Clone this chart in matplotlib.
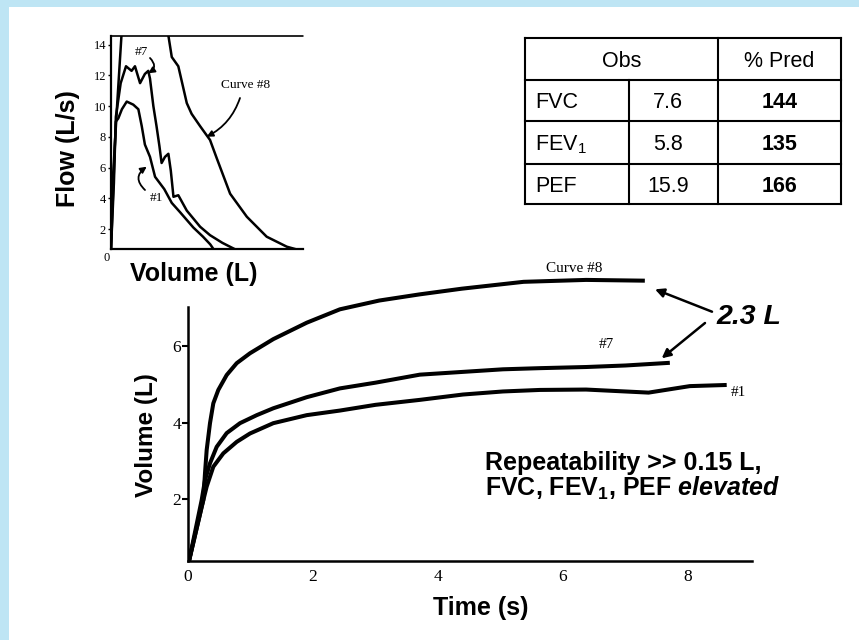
import matplotlib
matplotlib.use('Agg')
import matplotlib.pyplot as plt
from matplotlib.patches import Rectangle

plt.rcParams['mathtext.fontset'] = 'custom'
plt.rcParams['mathtext.rm'] = 'Liberation Sans'
plt.rcParams['mathtext.it'] = 'Liberation Sans:italic:bold'
plt.rcParams['mathtext.bf'] = 'Liberation Sans:bold'

# ---------------- data: volume-time curves ----------------
t_c8 = [0.0, 0.02, 0.245, 0.272, 0.299, 0.352, 0.405, 0.485, 0.619, 0.779, 0.992, 1.365, 1.9, 2.43,
        3.06, 3.7, 4.38, 5.37, 6.37, 7.31]
v_c8 = [0.3, 0.41, 1.98, 2.68, 3.29, 3.99, 4.51, 4.86, 5.25, 5.56, 5.82, 6.19, 6.62, 6.97,
        7.2, 7.36, 7.51, 7.69, 7.74, 7.72]
t_c7 = [0.0, 0.02, 0.219, 0.272, 0.352, 0.459, 0.619, 0.832, 1.1, 1.365, 1.9, 2.43,
        3.0, 3.71, 5.04, 5.63, 6.37, 7.0, 7.71]
v_c7 = [0.3, 0.41, 1.98, 2.5, 2.94, 3.37, 3.73, 3.99, 4.2, 4.38, 4.67, 4.9,
        5.05, 5.26, 5.4, 5.43, 5.46, 5.5, 5.57]
t_c1 = [0.0, 0.02, 0.219, 0.299, 0.405, 0.565, 0.779, 0.992, 1.365, 1.9, 2.43,
        3.0, 3.71, 4.4, 5.04, 5.63, 6.37, 7.12, 7.37, 8.03, 8.62]
v_c1 = [0.3, 0.41, 1.8, 2.33, 2.85, 3.2, 3.5, 3.72, 3.99, 4.2, 4.32,
        4.47, 4.6, 4.74, 4.82, 4.86, 4.87, 4.81, 4.79, 4.96, 4.99]

# ---------------- data: flow-volume curves ----------------
fv_v8 = [0.0, 0.05, 0.25, 0.44, 0.8, 1.3, 1.8, 2.37, 2.51, 2.78, 3.13, 3.33, 3.68, 4.09,
         4.37, 4.92, 5.61, 6.43, 7.26, 7.6]
fv_f8 = [0.7, 4.5, 10.0, 14.8, 15.6, 15.9, 15.5, 14.6, 13.2, 12.6, 10.2, 9.5, 8.7, 7.8,
         6.6, 4.3, 2.8, 1.5, 0.85, 0.7]
fv_v7 = [0.0, 0.12, 0.2, 0.4, 0.62, 0.85, 0.99, 1.2, 1.4, 1.54, 1.61, 1.75, 1.88, 2.0,
         2.09, 2.23, 2.37, 2.47, 2.58, 2.78, 3.13, 3.68, 4.09, 4.6, 5.1]
fv_f7 = [0.7, 5.0, 9.3, 11.5, 12.6, 12.3, 12.6, 11.5, 12.1, 12.3, 11.8, 10.0, 8.7, 7.4,
         6.3, 6.7, 6.9, 5.8, 4.1, 4.2, 3.2, 2.15, 1.6, 1.1, 0.7]
fv_v1 = [0.0, 0.1, 0.2, 0.3, 0.45, 0.65, 0.92, 1.13, 1.27, 1.4, 1.61, 1.82, 2.2, 2.51,
         2.85, 3.4, 3.8, 4.1, 4.23]
fv_f1 = [0.7, 5.0, 9.0, 9.2, 9.8, 10.3, 10.1, 9.8, 8.7, 7.5, 6.7, 5.4, 4.6, 3.7,
         3.1, 2.1, 1.5, 1.0, 0.7]

# ---------------- data: table ----------------
table_header = ["Obs", "% Pred"]
table_rows = ["FVC", r"FEV$\mathregular{_1}$", "PEF"]
table_obs = ["7.6", "5.8", "15.9"]
table_pred = ["144", "135", "166"]

main_xticks = [0, 2, 4, 6, 8]
main_yticks = [2, 4, 6]
inset_yticks = [2, 4, 6, 8, 10, 12, 14]

W, H = 859, 640
fig = plt.figure(figsize=(W / 100, H / 100), dpi=100)
fig.patch.set_facecolor('white')


def fx(px):
    return px / W


def fy(py):
    return 1 - py / H


blue = '#BEE5F4'
fig.patches.append(Rectangle((0, 0), fx(8.5), 1, transform=fig.transFigure,
                             facecolor=blue, edgecolor='none', zorder=-5))
fig.patches.append(Rectangle((0, fy(7)), 1, 7 / H, transform=fig.transFigure,
                             facecolor=blue, edgecolor='none', zorder=-5))

SERIF = 'Liberation Serif'
SANS = 'Liberation Sans'

# ---------------- main volume-time axes ----------------
ax = fig.add_axes([fx(188), fy(560.7), fx(751.7) - fx(188), fy(273.8) - fy(560.7)])
ax.patch.set_alpha(0)
ax.set_xlim(0, 9.02)
ax.set_ylim(0.39, 7.9)
for s in ['top', 'right']:
    ax.spines[s].set_visible(False)
for s in ['left', 'bottom']:
    ax.spines[s].set_linewidth(1.8)
ax.spines['left'].set_bounds(0.39, 7.04)
ax.set_xticks(main_xticks)
ax.set_yticks(main_yticks)
ax.tick_params(axis='x', length=0, pad=6)
ax.tick_params(axis='y', length=4, width=1.5, pad=1)
for lab in ax.get_xticklabels() + ax.get_yticklabels():
    lab.set_fontfamily(SERIF)
    lab.set_fontsize(12.5)
for tv, vv in [(t_c8, v_c8), (t_c7, v_c7), (t_c1, v_c1)]:
    ax.plot(tv, vv, color='black', lw=2.9, solid_capstyle='butt', solid_joinstyle='round')

# ---------------- inset flow-volume axes ----------------
ins = fig.add_axes([fx(111), fy(249.3), fx(303) - fx(111), fy(36) - fy(249.3)])
ins.patch.set_alpha(0)
ins.set_xlim(0, 7.93)
ins.set_ylim(0.68, 14.57)
ins.spines['right'].set_visible(False)
ins.spines['top'].set_linestyle((0, (1, 1)))
ins.spines['top'].set_linewidth(1.2)
ins.spines['left'].set_linewidth(1.6)
ins.spines['bottom'].set_linewidth(1.6)
ins.set_xticks([])
ins.set_yticks(inset_yticks)
ins.tick_params(axis='y', length=2, width=1, pad=1.5)
for lab in ins.get_yticklabels():
    lab.set_fontfamily(SERIF)
    lab.set_fontsize(9)
for vv, ff in [(fv_v8, fv_f8), (fv_v7, fv_f7), (fv_v1, fv_f1)]:
    ins.plot(vv, ff, color='black', lw=1.8, solid_joinstyle='round')

# ---------------- overlay (pixel coordinates) ----------------
ov = fig.add_axes([0, 0, 1, 1])
ov.set_xlim(0, W)
ov.set_ylim(H, 0)
ov.axis('off')
ov.patch.set_alpha(0)

# inset texts
ov.text(106.5, 258, '0', ha='center', va='center', fontsize=9, family=SERIF)
ov.text(68, 149, 'Flow (L/s)', rotation=90, ha='center', va='center',
        fontsize=18, fontweight='bold', family=SANS)
ov.text(193.5, 274, 'Volume (L)', ha='center', va='center',
        fontsize=18, fontweight='bold', family=SANS)
ov.text(246, 85, 'Curve #8', ha='center', va='center', fontsize=9.5, family=SERIF)
ov.text(141.5, 52, '#7', ha='center', va='center', fontsize=9.5, family=SERIF)
ov.text(156, 198, '#1', ha='center', va='center', fontsize=9.5, family=SERIF)
arrow_thin = dict(arrowstyle='-|>', lw=1.3, color='black', mutation_scale=9,
                  shrinkA=0, shrinkB=0)
ov.annotate('', xy=(206.7, 136.7), xytext=(240, 98),
            arrowprops=dict(connectionstyle='arc3,rad=-0.2', **arrow_thin))
ov.annotate('', xy=(148.3, 73.3), xytext=(150, 58),
            arrowprops=dict(connectionstyle='arc3,rad=-0.6', **arrow_thin))
ov.annotate('', xy=(146.7, 166.7), xytext=(145, 190),
            arrowprops=dict(connectionstyle='arc3,rad=-0.6', **arrow_thin))

# main texts
ov.text(146, 435, 'Volume (L)', rotation=90, ha='center', va='center',
        fontsize=17.5, fontweight='bold', family=SANS)
ov.text(481, 608, 'Time (s)', ha='center', va='center',
        fontsize=18, fontweight='bold', family=SANS)
ov.text(574, 268, 'Curve #8', ha='center', va='center', fontsize=11, family=SERIF)
ov.text(606, 345, '#7', ha='center', va='center', fontsize=11, family=SERIF)
ov.text(738, 393, '#1', ha='center', va='center', fontsize=11, family=SERIF)
ov.text(749, 317, '2.3 L', ha='center', va='center', fontsize=20.5,
        fontweight='bold', fontstyle='italic', family=SANS)
arrow_main = dict(arrowstyle='-|>', lw=1.8, color='black', mutation_scale=13,
                  shrinkA=0, shrinkB=0)
ov.annotate('', xy=(655, 289.3), xytext=(712, 311.7), arrowprops=arrow_main)
ov.annotate('', xy=(661.7, 358.3), xytext=(705, 323), arrowprops=arrow_main)

ov.text(485, 470, 'Repeatability >> 0.15 L,', ha='left', va='baseline',
        fontsize=18, fontweight='bold', family=SANS)
ov.text(485, 496, r'FVC, FEV$\mathregular{_1}$, PEF $\mathit{elevated}$', ha='left',
        va='baseline', fontsize=18, fontweight='bold', family=SANS)

# table
tl, tr = 525, 840.7
tc1, tc2 = 629.3, 718.3
row_y = [38.3, 80, 120.7, 164, 204.3]
tlw = 1.5
for y in row_y:
    ov.plot([tl, tr], [y, y], color='black', lw=tlw, solid_capstyle='projecting')
ov.plot([tl, tl], [row_y[0], row_y[-1]], color='black', lw=tlw)
ov.plot([tr, tr], [row_y[0], row_y[-1]], color='black', lw=tlw)
ov.plot([tc2, tc2], [row_y[0], row_y[-1]], color='black', lw=tlw)
ov.plot([tc1, tc1], [row_y[1], row_y[-1]], color='black', lw=tlw)

TFS = 15.5
hy = (row_y[0] + row_y[1]) / 2 + 7.5
ov.text((tl + tc2) / 2, hy, table_header[0], ha='center', va='baseline',
        fontsize=TFS, family=SANS)
ov.text((tc2 + tr) / 2, hy, table_header[1], ha='center', va='baseline',
        fontsize=TFS, family=SANS)
for i, (nm, ob, pr) in enumerate(zip(table_rows, table_obs, table_pred)):
    by = (row_y[i + 1] + row_y[i + 2]) / 2 + 8
    ov.text(tl + 10, by, nm, ha='left', va='baseline', fontsize=TFS, family=SANS)
    ov.text((tc1 + tc2) / 2 - 6, by, ob, ha='center', va='baseline', fontsize=TFS, family=SANS)
    ov.text((tc2 + tr) / 2, by, pr, ha='center', va='baseline', fontsize=TFS,
            fontweight='bold', family=SANS)

fig.savefig('out.png', dpi=100, facecolor=fig.get_facecolor())
